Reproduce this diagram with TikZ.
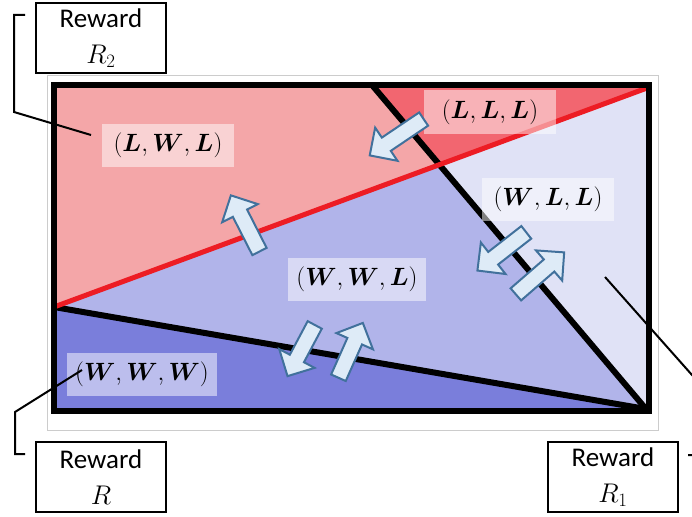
\RequirePackage{fix-cm}
\documentclass[tikz,border=0pt]{standalone}
\usepackage{amsmath}
\usepackage{bm}
\usepackage{fontspec}
\setmainfont{Carlito}
\usetikzlibrary{shapes.arrows}
\definecolor{lossred}{HTML}{F4A6A8}
\definecolor{lossdeep}{HTML}{F26670}
\definecolor{winpale}{HTML}{E0E2F6}
\definecolor{winmid}{HTML}{B1B4EA}
\definecolor{windeep}{HTML}{7A7EDB}
\definecolor{borderred}{HTML}{ED1C24}
\definecolor{arrowfill}{HTML}{DEEBF7}
\definecolor{arrowedge}{HTML}{41719C}
\tikzset{
    tallybox/.style={fill=white, fill opacity=0.5, text opacity=1, minimum width=132pt, minimum height=43pt, inner xsep=8pt, font=\fontsize{25}{30}\selectfont},
    rewardbox/.style={draw, line width=2pt, fill=white, minimum width=130pt, minimum height=70pt, align=center, inner sep=1pt, font=\fontsize{27}{36}\selectfont},
    flowarrow/.style={single arrow, draw=arrowedge, fill=arrowfill, line width=2pt, inner xsep=0pt, inner ysep=7pt, single arrow head extend=12pt},
    splitline/.style={line width=6pt},
    calloutline/.style={line width=2pt}
}

\begin{document}
\begin{tikzpicture}[x=1pt, y=-1pt]
        \useasboundingbox (0,0) rectangle (692,516);
        \clip (0,0) rectangle (692,516);
        \coordinate (tl) at (54,85);
        \coordinate (tr) at (649,85);
        \coordinate (br) at (649,411);
        \coordinate (bl) at (54,411);
        \coordinate (mid) at (54,307);
        \coordinate (redend) at (647,88);
        \coordinate (cuttop) at (372,85);
        \coordinate (corner) at (646,409);
        \coordinate (cross) at (intersection of mid--redend and cuttop--corner);
        \draw[gray!40, line width=1pt] (47,76) rectangle (658,430);
        \fill[lossred] (tl) -- (cuttop) -- (cross) -- (mid) -- cycle;
        \fill[lossdeep] (cuttop) -- (tr) -- (redend) -- (cross) -- cycle;
        \fill[winpale] (cross) -- (redend) -- (br) -- (corner) -- cycle;
        \fill[winmid] (mid) -- (cross) -- (corner) -- cycle;
        \fill[windeep] (mid) -- (corner) -- (bl) -- cycle;
        \draw[splitline] (cuttop) -- (corner);
        \draw[splitline] (mid) -- (corner);
        \draw[borderred, line width=5pt, line cap=round] (mid) -- (redend);
        \draw[splitline] (tl) rectangle (br);
        \node[tallybox] (lwl) at (168,145) {$(\bm{L},\bm{W},\bm{L})$};
        \node[tallybox] (lll) at (490,112) {$(\bm{L},\bm{L},\bm{L})$};
        \node[tallybox] (wll) at (548,199) {$(\bm{W},\bm{L},\bm{L})$};
        \node[tallybox] (wwl) at (357,279) {$(\bm{W},\bm{W},\bm{L})$};
        \node[tallybox] (www) at (142,374) {$(\bm{W},\bm{W},\bm{W})$};
        \node[flowarrow, minimum height=65pt, rotate=214] (lllout) at (400,135) {};
        \node[flowarrow, minimum height=63pt, rotate=117] (wwlup) at (247,227) {};
        \node[flowarrow, minimum height=62pt, rotate=218] (wllout) at (505,249) {};
        \node[flowarrow, minimum height=64pt, rotate=41] (wllin) at (537,276) {};
        \node[flowarrow, minimum height=58pt, rotate=242] (wwwin) at (303,347) {};
        \node[flowarrow, minimum height=60pt, rotate=66] (wwwout) at (349,354) {};
        \node[rewardbox] (rewtwo) at (101,38) {Reward\\$R_2$};
        \node[rewardbox] (rewzero) at (101,477) {Reward\\$R$};
        \node[rewardbox] (rewone) at (613,477) {Reward\\$R_1$};
        \coordinate (twotick) at (25,15);
        \coordinate (twotop) at (14,15);
        \coordinate (twobend) at (14,112);
        \coordinate (twoend) at (91,135);
        \coordinate (zerostart) at (82,370);
        \coordinate (zerobend) at (15,412);
        \coordinate (zerolow) at (15,454);
        \coordinate (zerotick) at (25,454);
        \coordinate (onestart) at (605,277);
        \coordinate (onebend) at (700,384);
        \coordinate (onelow) at (700,455);
        \coordinate (onetick) at (688,455);
        \draw[calloutline] (twotick) -- (twotop) -- (twobend) -- (twoend);
        \draw[calloutline] (zerostart) -- (zerobend) -- (zerolow) -- (zerotick);
        \draw[calloutline] (onestart) -- (onebend) -- (onelow) -- (onetick);
    \end{tikzpicture}
\end{document}
